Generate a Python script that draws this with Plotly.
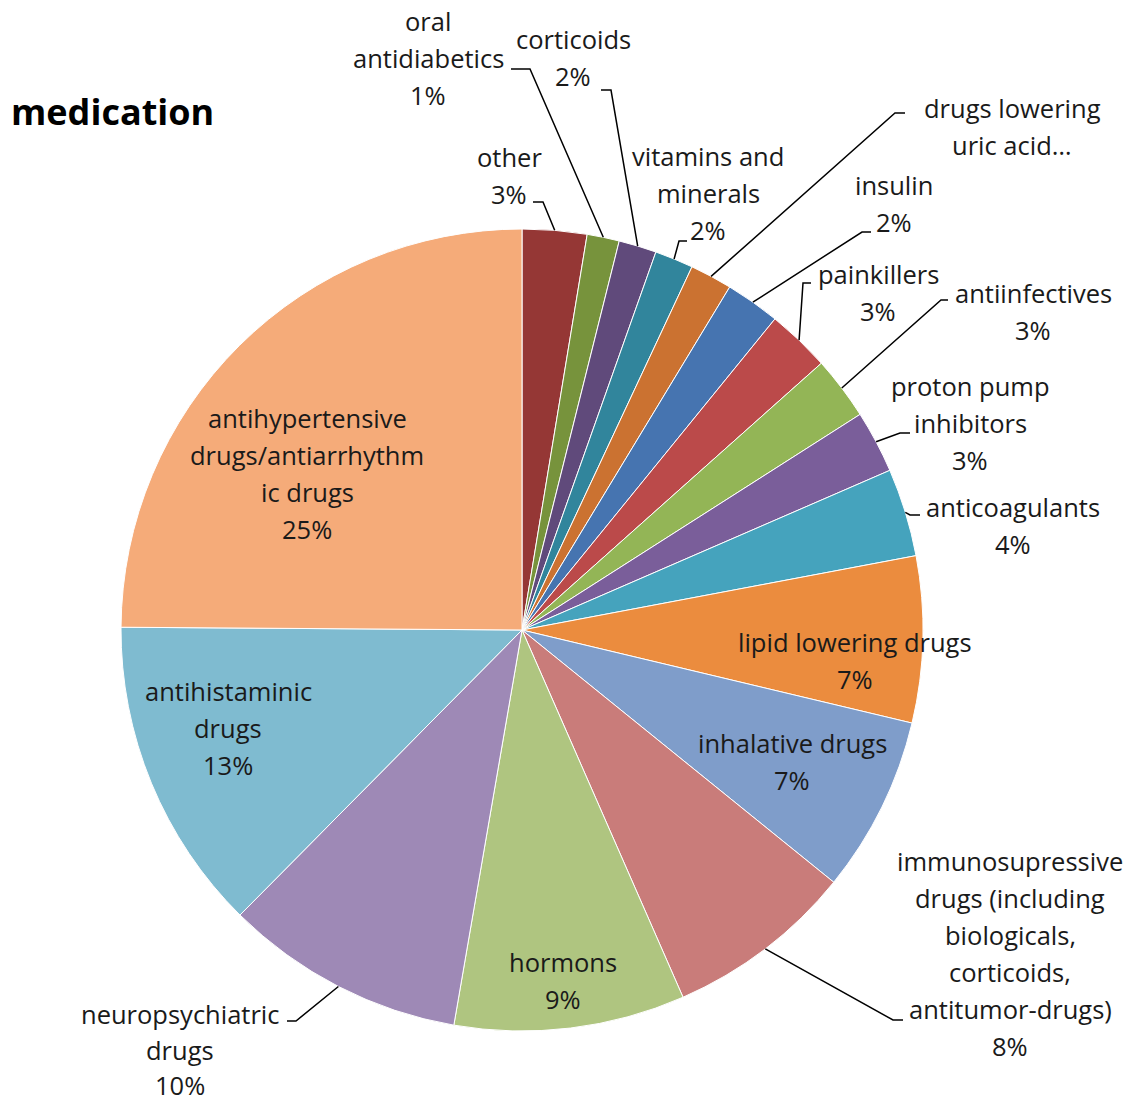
import math
import plotly.graph_objects as go

# ---------------- data ----------------
categories = [
    "other", "oral antidiabetics", "corticoids", "vitamins and minerals",
    "drugs lowering uric acid", "insulin", "painkillers", "antiinfectives",
    "proton pump inhibitors", "anticoagulants", "lipid lowering drugs",
    "inhalative drugs",
    "immunosupressive drugs (including biologicals, corticoids, antitumor-drugs)",
    "hormons", "neuropsychiatric drugs", "antihistaminic drugs",
    "antihypertensive drugs/antiarrhythmic drugs",
]
shares = [2.6, 1.3, 1.52, 1.55, 1.7, 2.2, 2.55, 2.55, 2.52, 3.55,
          6.7, 7.1, 7.6, 9.3, 9.7, 12.7, 24.9]
colors = ["#953735", "#77933C", "#604A7B", "#31859C", "#CB7231", "#4674B0",
          "#BB4A4A", "#93B556", "#7A5E9A", "#45A3BD", "#EB8C3E", "#7F9DCA",
          "#C97C7A", "#AFC580", "#9E89B6", "#7FBBD0", "#F5AB79"]
# label text lines as displayed (Excel-wrapped)
label_lines = [
    ["other"], ["oral", "antidiabetics"], ["corticoids"],
    ["vitamins and", "minerals"], ["drugs lowering", "uric acid\u2026"],
    ["insulin"], ["painkillers"], ["antiinfectives"],
    ["proton pump", "inhibitors"], ["anticoagulants"],
    ["lipid lowering drugs"], ["inhalative drugs"],
    ["immunosupressive", "drugs (including", "biologicals,", "corticoids,",
     "antitumor-drugs)"],
    ["hormons"], ["neuropsychiatric", "drugs"], ["antihistaminic", "drugs"],
    ["antihypertensive", "drugs/antiarrhythm", "ic drugs"],
]
show_pct = [True] * 17
show_pct[4] = False  # truncated label in original

# ---------------- layout / style ----------------
W, H = 1134, 1103
CX, CY, R = 522, 630, 401
FONT = "Open Sans"
FSIZE = 25.5
TXT = "#1a1a1a"
LINE_GAP = 37

# label placement: (center x, first line y), leader (knee, end) or None
label_pos = [
    (509, 157), (428, 21), (573, 39), (708, 156), (1012, 108),
    (894, 185), (878, 274), (1033, 293), (970, 386), (1013, 507),
    (855, 642), (792, 743), (1010, 861), (563, 962), (180, 1014),
    (228, 691), (307, 418),
]
leaders = [
    ((543, 202), (533, 202)), ((530, 69), (511, 69)), ((611, 90), (601, 90)),
    ((679, 241), (687, 241)), ((895, 113), (905, 113)),
    ((862, 232), (871, 232)), ((803, 283), (811, 283)),
    ((941, 300), (948, 300)), ((900, 433), (910, 433)),
    ((910, 515), (920, 515)), None, None, ((893, 1020), (903, 1020)),
    None, ((296, 1021), (287, 1021)), None, None,
]
line_gaps = [LINE_GAP] * 17
line_gaps[14] = 35.5  # bottom label kept inside the canvas

total = sum(shares)

fig = go.Figure()
fig.add_trace(go.Pie(
    values=shares, labels=categories, sort=False, direction="clockwise",
    rotation=0, textinfo="none", hoverinfo="label+percent",
    marker=dict(colors=colors, line=dict(color="white", width=1)),
    domain=dict(x=[(CX - R) / W, (CX + R) / W],
                y=[(H - CY - R) / H, (H - CY + R) / H]),
    showlegend=False,
))

# invisible pixel-space axes for labels and leader lines
fig.add_trace(go.Scatter(x=[0, W], y=[0, H], mode="markers",
                         marker=dict(opacity=0), hoverinfo="skip",
                         showlegend=False))

shapes = []
annotations = []
cum = 0.0
for i, v in enumerate(shares):
    mid = (cum + v / 2) / total * 2 * math.pi
    cum += v
    ex = CX + R * math.sin(mid)
    ey = CY - R * math.cos(mid)
    lines = list(label_lines[i])
    if show_pct[i]:
        lines.append(f"{round(v / total * 100)}%")
    lx, ly = label_pos[i]
    for k, t in enumerate(lines):
        annotations.append(dict(
            x=lx, y=ly + k * line_gaps[i], xref="x", yref="y", text=t,
            showarrow=False, xanchor="center", yanchor="middle", borderpad=0,
            font=dict(family=FONT, size=FSIZE, color=TXT)))
    if leaders[i] is not None:
        (kx, ky), (ux, uy) = leaders[i]
        shapes.append(dict(
            type="path", xref="x", yref="y",
            path=f"M {ex:.1f} {ey:.1f} L {kx} {ky} L {ux} {uy}",
            line=dict(color="#000000", width=1.5)))

annotations.append(dict(
    x=10, y=111, xref="x", yref="y", text="<b>medication</b>",
    showarrow=False, xanchor="left", yanchor="middle", borderpad=0,
    font=dict(family=FONT, size=36, color="#000000")))

fig.update_layout(
    width=W, height=H, margin=dict(l=0, r=0, t=0, b=0),
    paper_bgcolor="white", plot_bgcolor="rgba(0,0,0,0)",
    xaxis=dict(range=[0, W], visible=False, domain=[0, 1], fixedrange=True),
    yaxis=dict(range=[H, 0], visible=False, domain=[0, 1], fixedrange=True),
    shapes=shapes, annotations=annotations,
)

fig.write_html("out.html")
